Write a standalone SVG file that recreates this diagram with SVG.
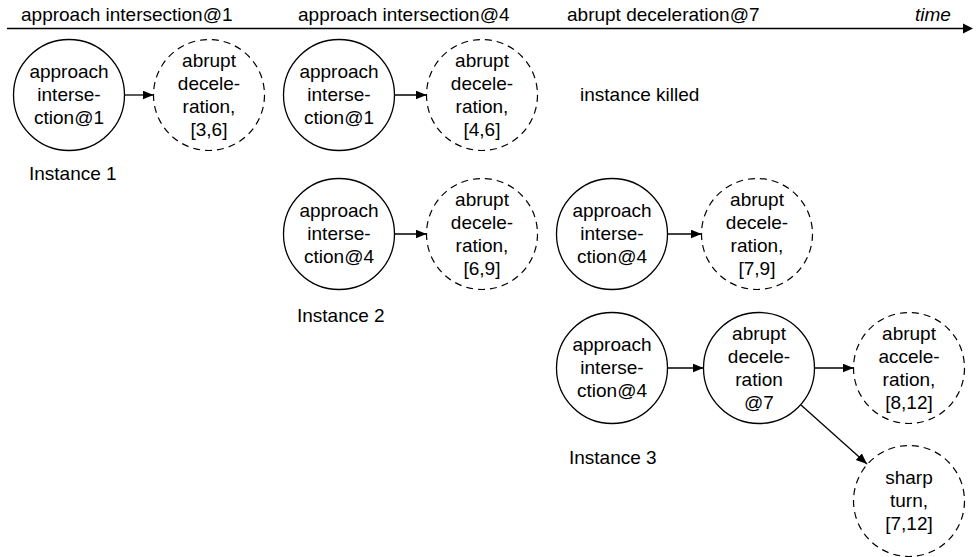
<svg xmlns="http://www.w3.org/2000/svg" width="976" height="557" viewBox="0 0 976 557">
<style>
text{font-family:"Liberation Sans",Arial,sans-serif;font-size:19px;fill:#000}
.c{text-anchor:middle}
.n{fill:#fff;stroke:#000;stroke-width:1.3}
.d{fill:#fff;stroke:#000;stroke-width:1.2;stroke-dasharray:7 5}
.e{stroke:#000;stroke-width:1.3;fill:none;marker-end:url(#ah)}
</style>
<defs>
<marker id="ah" markerUnits="userSpaceOnUse" markerWidth="12" markerHeight="10" refX="11" refY="4.5" orient="auto">
<path d="M0,0 L11,4.5 L0,9 z" fill="#000"/>
</marker>
</defs>
<g id="timeline">
<line x1="7" y1="28.5" x2="963" y2="28.5" stroke="#000" stroke-width="1.3"/>
<path d="M963,23.5 L973,28.5 L963,33.5 z" fill="#000"/>
<text x="21" y="21">approach intersection@1</text>
<text x="298" y="21">approach intersection@4</text>
<text x="567" y="21">abrupt deceleration@7</text>
<text x="915" y="21" font-style="italic">time</text>
</g>
<g id="connectors">
<line class="e" x1="124.5" y1="95" x2="153.5" y2="95"/>
<line class="e" x1="394.5" y1="95" x2="426.5" y2="95"/>
<line class="e" x1="394.5" y1="234" x2="426.5" y2="234"/>
<line class="e" x1="667.5" y1="234" x2="701.5" y2="234"/>
<line class="e" x1="667.5" y1="368" x2="703.5" y2="368"/>
<line class="e" x1="814.5" y1="368" x2="853.5" y2="368"/>
<line class="e" x1="801" y1="405" x2="867" y2="464"/>
</g>
<g id="n1a"><circle class="n" cx="69" cy="95" r="55.5"/>
<text class="c" x="69" y="78">approach</text><text class="c" x="69" y="101">interse-</text><text class="c" x="69" y="124">ction@1</text></g>
<g id="n1b"><circle class="d" cx="209" cy="95" r="55.5"/>
<text class="c" x="209" y="66.5">abrupt</text><text class="c" x="209" y="89.5">decele-</text><text class="c" x="209" y="112.5">ration,</text><text class="c" x="209" y="135.5">[3,6]</text></g>
<g id="n2a"><circle class="n" cx="339" cy="95" r="55.5"/>
<text class="c" x="339" y="78">approach</text><text class="c" x="339" y="101">interse-</text><text class="c" x="339" y="124">ction@1</text></g>
<g id="n2b"><circle class="d" cx="482" cy="95" r="55.5"/>
<text class="c" x="482" y="66.5">abrupt</text><text class="c" x="482" y="89.5">decele-</text><text class="c" x="482" y="112.5">ration,</text><text class="c" x="482" y="135.5">[4,6]</text></g>
<g id="n3a"><circle class="n" cx="339" cy="234" r="55.5"/>
<text class="c" x="339" y="217">approach</text><text class="c" x="339" y="240">interse-</text><text class="c" x="339" y="263">ction@4</text></g>
<g id="n3b"><circle class="d" cx="482" cy="234" r="55.5"/>
<text class="c" x="482" y="205.5">abrupt</text><text class="c" x="482" y="228.5">decele-</text><text class="c" x="482" y="251.5">ration,</text><text class="c" x="482" y="274.5">[6,9]</text></g>
<g id="n4a"><circle class="n" cx="612" cy="234" r="55.5"/>
<text class="c" x="612" y="217">approach</text><text class="c" x="612" y="240">interse-</text><text class="c" x="612" y="263">ction@4</text></g>
<g id="n4b"><circle class="d" cx="757" cy="234" r="55.5"/>
<text class="c" x="757" y="205.5">abrupt</text><text class="c" x="757" y="228.5">decele-</text><text class="c" x="757" y="251.5">ration,</text><text class="c" x="757" y="274.5">[7,9]</text></g>
<g id="n5a"><circle class="n" cx="612" cy="368" r="55.5"/>
<text class="c" x="612" y="351">approach</text><text class="c" x="612" y="374">interse-</text><text class="c" x="612" y="397">ction@4</text></g>
<g id="n5b"><circle class="n" cx="759" cy="368" r="55.5"/>
<text class="c" x="759" y="339.5">abrupt</text><text class="c" x="759" y="362.5">decele-</text><text class="c" x="759" y="385.5">ration</text><text class="c" x="759" y="408.5">@7</text></g>
<g id="n5c"><circle class="d" cx="909" cy="368" r="55.5"/>
<text class="c" x="909" y="339.5">abrupt</text><text class="c" x="909" y="362.5">accele-</text><text class="c" x="909" y="385.5">ration,</text><text class="c" x="909" y="408.5">[8,12]</text></g>
<g id="n5d"><circle class="d" cx="909" cy="501" r="55.5"/>
<text class="c" x="909" y="484">sharp</text><text class="c" x="909" y="507">turn,</text><text class="c" x="909" y="530">[7,12]</text></g>
<g id="labels">
<text x="580" y="101">instance killed</text>
<text x="29" y="180">Instance 1</text>
<text x="297" y="322">Instance 2</text>
<text x="569" y="464">Instance 3</text>
</g>
</svg>
